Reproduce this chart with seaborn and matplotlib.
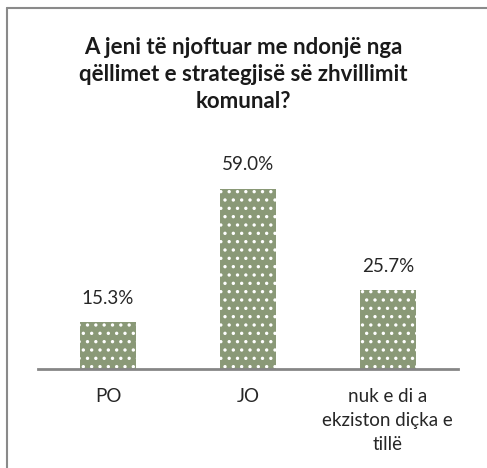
import matplotlib.pyplot as plt
import matplotlib.lines as mlines
import seaborn as sns
import pandas as pd

categories = ["PO", "JO", "nuk e di a\nekziston diçka e\ntillë"]
values = [15.3, 59.0, 25.7]
value_labels = ["15.3%", "59.0%", "25.7%"]

title = "A jeni të njoftuar me ndonjë nga\nqëllimet e strategjisë së zhvillimit\nkomunal?"

sns.set_style("white")
plt.rcParams["font.family"] = ["Lato", "DejaVu Sans"]
plt.rcParams["hatch.color"] = "white"
plt.rcParams["hatch.linewidth"] = 1.2

data = pd.DataFrame({"cat": categories, "val": values})

fig = plt.figure(figsize=(4.87, 4.68), dpi=100)
ax = fig.add_axes([0.078, 0.2115, 0.862, 0.457])
sns.barplot(data=data, x="cat", y="val", color="#8a9977", width=0.4,
            saturation=1, ax=ax)
for bar in ax.patches:
    bar.set_hatch("..")
    bar.set_linewidth(0)

for i, lab in enumerate(value_labels):
    ax.annotate(lab, (i, values[i]), xytext=(0, 11), textcoords="offset points",
                ha="center", va="bottom", fontsize=13.5, color="#262626")

ax.set_ylim(0, 70)
ax.set_xlim(-0.5, 2.5)
ax.set_xlabel("")
ax.set_ylabel("")
ax.set_yticks([])
ax.tick_params(axis="x", length=0, pad=14, labelsize=13.5, labelcolor="#262626")
for lbl in ax.get_xticklabels():
    lbl.set_linespacing(1.5)
    lbl.set_va("top")
sns.despine(ax=ax, left=True)
ax.spines["bottom"].set_color("#868686")
ax.spines["bottom"].set_linewidth(2)

fig.text(0.5, 0.922, title, ha="center", va="top", fontsize=16,
         fontweight="bold", color="#1a1a1a", linespacing=1.38)

# outer frame (left and top edges visible)
fig.add_artist(mlines.Line2D([6.5 / 487, 6.5 / 487], [0, 1 - 8 / 468],
                             color="#8a8a8a", lw=1.5))
fig.add_artist(mlines.Line2D([6.5 / 487, 1], [1 - 8 / 468, 1 - 8 / 468],
                             color="#8a8a8a", lw=1.5))

fig.savefig("out.png", dpi=100)
